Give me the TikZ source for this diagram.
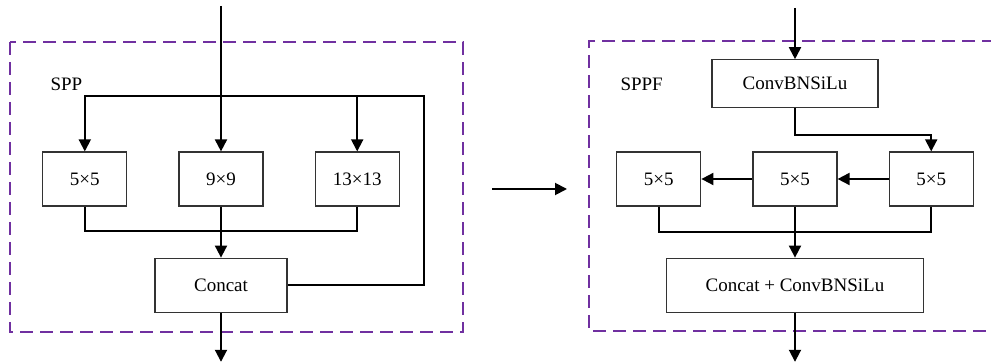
\documentclass[tikz,border=0pt]{standalone}
\usepackage{fontspec}
\setmainfont{Liberation Serif}
\usepackage{tikz}
\usetikzlibrary{positioning,arrows.meta}
\definecolor{grouppurple}{RGB}{112,48,160}

\begin{document}
\begin{tikzpicture}[x=1pt, y=-1pt,
    every node/.style={font=\fontsize{19}{22}\selectfont},
    box/.style={draw=black!80, line width=1.2pt, rectangle, inner sep=0pt, minimum width=84pt, minimum height=54pt},
    line/.style={draw, line width=1.9pt},
    arr/.style={line, -{Triangle[width=12pt, length=12pt]}},
    group/.style={draw=grouppurple, line width=2pt, dash pattern=on 13pt off 7pt}]
    \useasboundingbox (0,0) rectangle (991,363);

    % SPP
    \draw[group] (10,42) rectangle (463,332);
    \node[anchor=west] (sppl) at (47,84) {SPP};

    \node[box] (k9) at (221,179) {9×9};
    \node[box, left=51pt of k9] (k5) {5×5};
    \node[box, right=51pt of k9] (k13) {13×13};
    \node[box, minimum width=132pt, below=51pt of k9] (concat) {Concat};

    \coordinate (inL) at (221,6);
    \coordinate (splL) at (221,96);
    \coordinate (loopL) at (424,96);
    \coordinate (mrgL) at (221,231);
    \coordinate[below=49pt of concat.south] (outL);

    \draw[arr] (inL) -- (k9);
    \draw[arr] (splL) -| (k5);
    \draw[arr] (splL) -| (k13);
    \draw[line] (splL) -- (loopL) |- (concat);
    \draw[line] (k5) |- (mrgL);
    \draw[line] (k13) |- (mrgL);
    \draw[arr] (k9) -- (concat);
    \draw[arr] (concat) -- (outL);

    % SPP -> SPPF
    \coordinate (midA) at (492,189);
    \coordinate (midB) at (567,189);
    \draw[arr] (midA) -- (midB);

    % SPPF
    \draw[group] (995,41) -- (589,41) -- (589,331) -- (995,331);
    \node[anchor=west] (sppfl) at (617,84) {SPPF};

    \node[box] (kB) at (795,179) {5×5};
    \node[box, left=51pt of kB] (kA) {5×5};
    \node[box, right=51pt of kB] (kC) {5×5};
    \node[box, minimum width=166pt, minimum height=48pt, above=43pt of kB] (conv) {ConvBNSiLu};
    \node[box, minimum width=257pt, below=51pt of kB] (cat2) {Concat + ConvBNSiLu};

    \coordinate (inR) at (795,8);
    \coordinate (bendR) at (795,135);
    \coordinate (mrgR) at (795,232);
    \coordinate[below=49pt of cat2.south] (outR);

    \draw[arr] (inR) -- (conv);
    \draw[arr] (conv) -- (bendR) -| (kC);
    \draw[arr] (kC) -- (kB);
    \draw[arr] (kB) -- (kA);
    \draw[line] (kA) |- (mrgR);
    \draw[line] (kC) |- (mrgR);
    \draw[arr] (kB) -- (cat2);
    \draw[arr] (cat2) -- (outR);
\end{tikzpicture}
\end{document}
